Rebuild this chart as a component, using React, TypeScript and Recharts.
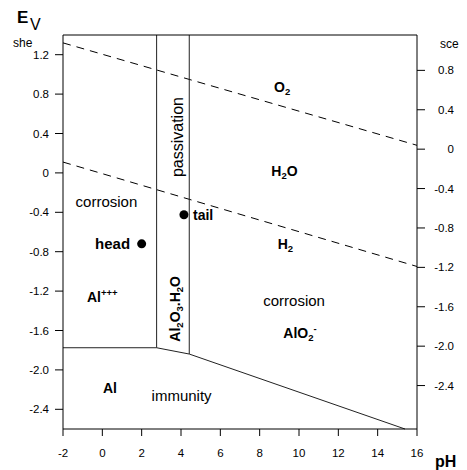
import {
  ComposedChart,
  XAxis,
  YAxis,
  Scatter,
  ReferenceLine,
  ReferenceDot,
} from "recharts";

const FONT = '"Liberation Sans", Arial, Helvetica, sans-serif';

// axes
const phTicks = [-2, 0, 2, 4, 6, 8, 10, 12, 14, 16];
const sheTicks = [1.2, 0.8, 0.4, 0, -0.4, -0.8, -1.2, -1.6, -2.0, -2.4];
const sceTicks = [0.8, 0.4, 0, -0.4, -0.8, -1.2, -1.6, -2.0, -2.4];
const SCE_OFFSET = 0.241;
const E_MIN = -2.6;
const E_MAX = 1.4;

// water stability lines (dashed)
const o2Line = [
  { ph: -2, e: 1.32 },
  { ph: 16, e: 0.28 },
];
const h2Line = [
  { ph: -2, e: 0.11 },
  { ph: 16, e: -0.95 },
];

// domain boundaries (solid)
const boundaries = [
  [
    { ph: 2.76, e: 1.4 },
    { ph: 2.76, e: -1.775 },
  ],
  [
    { ph: 4.42, e: 1.4 },
    { ph: 4.42, e: -1.839 },
  ],
  [
    { ph: -2, e: -1.775 },
    { ph: 2.76, e: -1.775 },
  ],
  [
    { ph: 2.76, e: -1.775 },
    { ph: 4.42, e: -1.839 },
  ],
  [
    { ph: 4.42, e: -1.839 },
    { ph: 15.39, e: -2.6 },
  ],
];

const points = [
  { name: "head", ph: 2.0, e: -0.72 },
  { name: "tail", ph: 4.15, e: -0.425 },
];

type Part = { t: string; k?: "sub" | "sup" };
type Note = {
  ph: number;
  e: number;
  parts: Part[];
  bold?: boolean;
  size: number;
  anchor?: "start" | "middle" | "end";
  rotate?: boolean;
};

const notes: Note[] = [
  { ph: 9.14, e: 0.867, parts: [{ t: "O" }, { t: "2", k: "sub" }], bold: true, size: 14 },
  { ph: 9.26, e: 0.014, parts: [{ t: "H" }, { t: "2", k: "sub" }, { t: "O" }], bold: true, size: 14 },
  { ph: 9.31, e: -0.722, parts: [{ t: "H" }, { t: "2", k: "sub" }], bold: true, size: 14 },
  { ph: 9.75, e: -1.295, parts: [{ t: "corrosion" }], size: 15 },
  {
    ph: 10.05,
    e: -1.625,
    parts: [{ t: "AlO" }, { t: "2", k: "sub" }, { t: "-", k: "sup" }],
    bold: true,
    size: 14,
  },
  { ph: 0.21, e: -0.295, parts: [{ t: "corrosion" }], size: 15 },
  { ph: 1.41, e: -0.722, parts: [{ t: "head" }], bold: true, size: 15, anchor: "end" },
  { ph: 4.61, e: -0.43, parts: [{ t: "tail" }], bold: true, size: 14, anchor: "start" },
  {
    ph: -0.78,
    e: -1.26,
    parts: [{ t: "Al" }, { t: "+++", k: "sup" }],
    bold: true,
    size: 14,
    anchor: "start",
  },
  { ph: 0.39, e: -2.184, parts: [{ t: "Al" }], bold: true, size: 14 },
  { ph: 4.03, e: -2.265, parts: [{ t: "immunity" }], size: 15 },
  { ph: 3.8, e: 0.364, parts: [{ t: "passivation" }], size: 16, rotate: true },
  {
    ph: 3.69,
    e: -1.38,
    parts: [
      { t: "Al" },
      { t: "2", k: "sub" },
      { t: "O" },
      { t: "3", k: "sub" },
      { t: ".H" },
      { t: "2", k: "sub" },
      { t: "O" },
    ],
    bold: true,
    size: 14,
    rotate: true,
  },
];

const fmt = (v: number) => (v === 0 ? "0" : v.toFixed(1));

function renderNote(cx: number, cy: number, n: Note) {
  const small = n.size * 0.68;
  let shift = 0;
  const spans = n.parts.map((p, i) => {
    const target = p.k === "sub" ? n.size * 0.2 : p.k === "sup" ? -n.size * 0.4 : 0;
    const dy = target - shift;
    shift = target;
    return (
      <tspan key={i} dy={dy} fontSize={p.k ? small : n.size}>
        {p.t}
      </tspan>
    );
  });
  return (
    <text
      x={cx}
      y={cy + n.size * 0.35}
      textAnchor={n.anchor ?? "middle"}
      fontWeight={n.bold ? "bold" : "normal"}
      fontSize={n.size}
      fill="#000"
      fontFamily={FONT}
      transform={n.rotate ? `rotate(-90, ${cx}, ${cy})` : undefined}
    >
      {spans}
    </text>
  );
}

function SceTick(props: any) {
  const { x, y, payload } = props;
  return (
    <text x={x + 29} y={y} dy="0.355em" textAnchor="end" fontSize={11.5} fill="#000">
      {fmt(payload.value)}
    </text>
  );
}

export default function App() {
  return (
    <div
      style={{
        position: "absolute",
        left: 0,
        top: 0,
        width: 467,
        height: 470,
        background: "#fff",
        fontFamily: FONT,
      }}
    >
      <ComposedChart width={467} height={470} margin={{ top: 0, right: 0, bottom: 0, left: 0 }}>
        <XAxis
          xAxisId="ph"
          dataKey="ph"
          type="number"
          domain={[-2, 16]}
          ticks={phTicks}
          height={41}
          tickSize={7}
          tickMargin={13}
          stroke="#000"
          tick={{ fill: "#000", fontSize: 11.5 }}
          allowDataOverflow
        />
        <XAxis
          xAxisId="top"
          orientation="top"
          type="number"
          domain={[-2, 16]}
          ticks={phTicks}
          height={35}
          tickSize={7}
          tickFormatter={() => ""}
          stroke="#000"
          allowDataOverflow
        />
        <YAxis
          yAxisId="she"
          dataKey="e"
          type="number"
          domain={[E_MIN, E_MAX]}
          ticks={sheTicks}
          width={63}
          tickSize={8}
          tickMargin={6}
          tickFormatter={fmt}
          stroke="#000"
          tick={{ fill: "#000", fontSize: 11.5 }}
          allowDataOverflow
        />
        <YAxis
          yAxisId="sce"
          orientation="right"
          type="number"
          domain={[E_MIN - SCE_OFFSET, E_MAX - SCE_OFFSET]}
          ticks={sceTicks}
          width={50}
          tickSize={8}
          tickMargin={0}
          stroke="#000"
          tick={<SceTick />}
          allowDataOverflow
        />

        {[o2Line, h2Line].map((l, i) => (
          <ReferenceLine
            key={`w${i}`}
            xAxisId="ph"
            yAxisId="she"
            segment={l.map((p) => ({ x: p.ph, y: p.e }))}
            stroke="#000"
            strokeWidth={1}
            strokeDasharray="8 6"
            ifOverflow="visible"
          />
        ))}
        {boundaries.map((l, i) => (
          <ReferenceLine
            key={`b${i}`}
            xAxisId="ph"
            yAxisId="she"
            segment={l.map((p) => ({ x: p.ph, y: p.e }))}
            stroke="#222"
            strokeWidth={1}
            ifOverflow="visible"
          />
        ))}

        <Scatter
          xAxisId="ph"
          yAxisId="she"
          data={points}
          dataKey="e"
          isAnimationActive={false}
          shape={(p: any) => <circle cx={p.cx} cy={p.cy} r={4.5} fill="#000" />}
        />

        {notes.map((n, i) => (
          <ReferenceDot
            key={`n${i}`}
            xAxisId="ph"
            yAxisId="she"
            x={n.ph}
            y={n.e}
            r={0}
            ifOverflow="visible"
            shape={(p: any) => renderNote(p.cx, p.cy, n)}
          />
        ))}
      </ComposedChart>

      <svg
        width={467}
        height={470}
        style={{ position: "absolute", left: 0, top: 0, pointerEvents: "none" }}
        fontFamily={FONT}
      >
        <text x={17} y={23} fontSize={17} fontWeight="bold" fill="#000">
          E
        </text>
        <text x={30} y={30} fontSize={16} fill="#000">
          V
        </text>
        <text x={13} y={47} fontSize={12} fill="#000">
          she
        </text>
        <text x={440} y={48} fontSize={12} fill="#000">
          sce
        </text>
        <text x={435} y={467} fontSize={16} fontWeight="bold" fill="#000">
          pH
        </text>
      </svg>
    </div>
  );
}
